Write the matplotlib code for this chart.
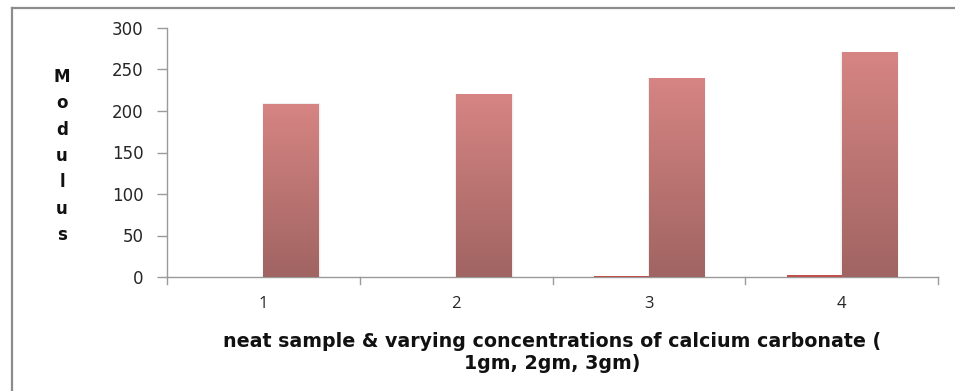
import numpy as np
import matplotlib
matplotlib.use("Agg")
import matplotlib.pyplot as plt
from matplotlib.colors import LinearSegmentedColormap
from matplotlib.lines import Line2D

categories = ["1", "2", "3", "4"]
series_small = [0.2, 0.3, 1.0, 2.0]
series_modulus = [209, 220, 240, 271]
y_ticks = [0, 50, 100, 150, 200, 250, 300]

fig = plt.figure(figsize=(9.55, 3.91), dpi=100)
fig.patch.set_facecolor("white")

W, H = 955, 391
ax = fig.add_axes([167 / W, 1 - 277 / H, (938 - 167) / W, (277 - 28) / H])

x = np.arange(len(categories))
bw = 1 / 3.5
axis_col = "#9a9a9a"

bars_small = ax.bar(x - bw / 2, series_small, width=bw, color="#C0504D",
                    edgecolor="none", zorder=3)
bars_mod = ax.bar(x + bw / 2, series_modulus, width=bw, color="none",
                  edgecolor="none", zorder=3)

# vertical gradient fill with a faint shadow for the modulus bars
cmap = LinearSegmentedColormap.from_list("bar", ["#a06462", "#d68583"])
grad = np.linspace(0, 1, 256).reshape(-1, 1)
for b in bars_mod:
    x0, y0 = b.get_x(), b.get_y()
    w, h = b.get_width(), b.get_height()
    for k, a in [(0.012, 0.05), (0.007, 0.07)]:
        ax.add_patch(plt.Rectangle((x0 - k * 0.5, y0), w + k * 1.5, h + k * 25,
                                   facecolor="#808080", edgecolor="none",
                                   alpha=a, zorder=2))
    im = ax.imshow(grad, cmap=cmap, origin="lower", aspect="auto",
                   extent=[x0, x0 + w, y0, y0 + h], zorder=3,
                   interpolation="bilinear")
    im.set_clip_path(b)

ax.set_xlim(-0.5, len(categories) - 0.5)
ax.set_ylim(0, 300)
ax.set_yticks(y_ticks)
ax.set_yticklabels([str(t) for t in y_ticks], fontsize=12, family="DejaVu Sans",
                   color="#262626")
ax.set_xticks(x)
ax.set_xticklabels(categories, fontsize=12, family="Open Sans", color="#262626")
ax.tick_params(axis="x", length=0, pad=14)
ax.tick_params(axis="y", length=7, width=1, color=axis_col, pad=10)

# category boundary ticks on the x axis
for xb in np.arange(-0.5, len(categories), 1.0):
    ax.plot([xb, xb], [0, -8], color=axis_col, lw=1, clip_on=False, zorder=4)

for side in ["top", "right"]:
    ax.spines[side].set_visible(False)
for side in ["left", "bottom"]:
    ax.spines[side].set_color(axis_col)
    ax.spines[side].set_linewidth(1)

ax.set_xlabel("neat sample & varying concentrations of calcium carbonate (\n"
              "1gm, 2gm, 3gm)", fontsize=13.7, family="DejaVu Sans",
              fontweight="bold", labelpad=14, linespacing=1.2, color="#111111")

fig.text(62 / W, 1 - 156 / H, "\n".join("Modulus"), ha="center", va="center",
         fontsize=12, family="DejaVu Sans", fontweight="bold", linespacing=1.6,
         color="#111111")

# chart frame
fig.add_artist(Line2D([11.5 / W, 11.5 / W], [0, 1 - 7.5 / H], color="#8c8c8c",
                      lw=1.6, transform=fig.transFigure))
fig.add_artist(Line2D([11.5 / W, 1], [1 - 7.5 / H, 1 - 7.5 / H], color="#8c8c8c",
                      lw=1.6, transform=fig.transFigure))

fig.savefig("out.png", dpi=100, facecolor="white")
